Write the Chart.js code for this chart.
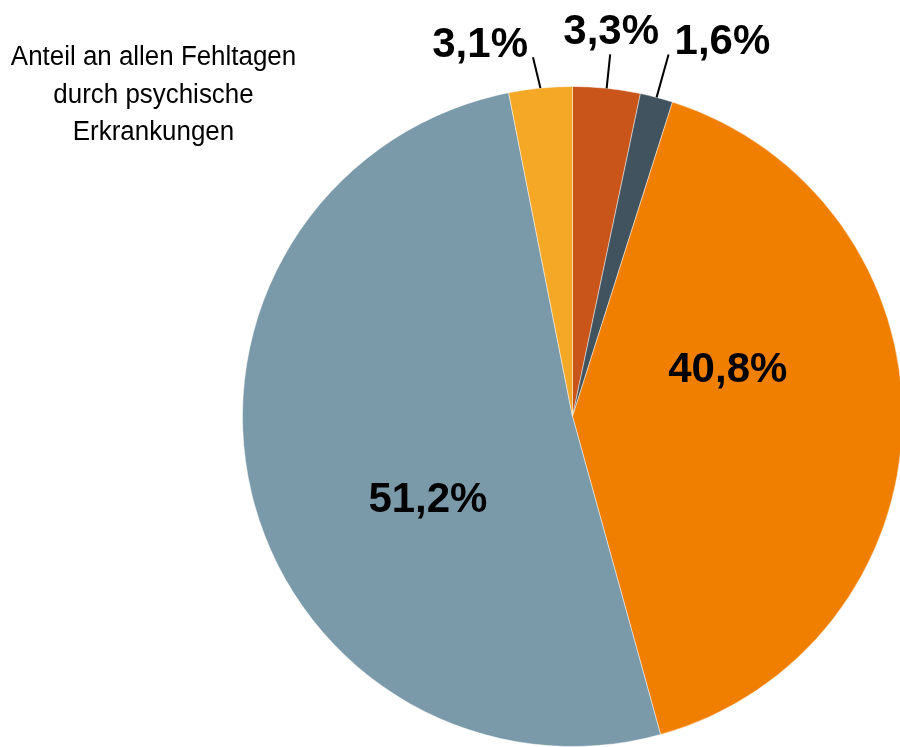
<!DOCTYPE html>
<html>
<head>
<meta charset="utf-8">
<script src="https://cdn.jsdelivr.net/npm/chart.js@4/dist/chart.umd.min.js"></script>
<style>
  html, body { margin: 0; padding: 0; background: #ffffff; overflow: hidden; width: 900px; height: 747px; }
  #wrap { position: relative; width: 910px; height: 747px; }
</style>
</head>
<body>
<div id="wrap"><canvas id="c" width="910" height="747"></canvas></div>
<script>
// ---- data ----
const categories = ['Kategorie 1', 'Kategorie 2', 'Kategorie 3', 'Kategorie 4', 'Kategorie 5'];
const shares = [3.3, 1.6, 40.8, 51.2, 3.1];
const titleLines = ['Anteil an allen Fehltagen', 'durch psychische', 'Erkrankungen'];

// ---- style ----
const sliceColors = ['#C9551A', '#41535F', '#F07F00', '#7A9AA9', '#F5A726'];
// label placement per slice (style only): inside labels use angle offset (deg) from slice middle and radius factor;
// outside labels use a leader line from the rim to a point at (angle offset, radius factor), with text offset.
const labelPlacement = [
  { type: 'outside', dAng: 0.0,  rf: 1.103, align: 'center', tx: 1,  ty: -10 },
  { type: 'outside', dAng: 0.1,  rf: 1.135, align: 'left',   tx: 6,  ty: 0 },
  { type: 'inside',  dAng: -18.8, rf: 0.494 },
  { type: 'inside',  dAng: -15.9, rf: 0.502 },
  { type: 'outside', dAng: -0.7, rf: 1.095, align: 'right',  tx: -5, ty: 0 }
];

function fmt(v) { return v.toFixed(1).replace('.', ',') + '%'; }

const labelPlugin = {
  id: 'pieLabels',
  afterDraw(chart) {
    const ctx = chart.ctx;
    const meta = chart.getDatasetMeta(0);
    ctx.save();
    ctx.fillStyle = '#000';
    ctx.strokeStyle = '#000';
    ctx.lineWidth = 2;
    ctx.font = 'bold 42px "Liberation Sans", Arial, sans-serif';
    meta.data.forEach((arc, i) => {
      const p = arc.getProps(['x', 'y', 'startAngle', 'endAngle', 'outerRadius'], true);
      const mid = (p.startAngle + p.endAngle) / 2;
      const pl = labelPlacement[i];
      const txt = fmt(shares[i]);
      const a = mid + pl.dAng * Math.PI / 180;
      const px = p.x + Math.cos(a) * p.outerRadius * pl.rf;
      const py = p.y + Math.sin(a) * p.outerRadius * pl.rf;
      ctx.textBaseline = 'alphabetic';
      if (pl.type === 'inside') {
        ctx.textAlign = 'center';
        ctx.fillText(txt, px, py + 15);
      } else {
        const sx = p.x + Math.cos(mid) * p.outerRadius;
        const sy = p.y + Math.sin(mid) * p.outerRadius;
        ctx.beginPath();
        ctx.moveTo(sx, sy);
        ctx.lineTo(px, py);
        ctx.stroke();
        ctx.textAlign = pl.align;
        ctx.fillText(txt, px + pl.tx, py + pl.ty);
      }
    });
    // title text
    ctx.font = '27px "Liberation Sans", Arial, sans-serif';
    ctx.textAlign = 'center';
    ctx.textBaseline = 'alphabetic';
    titleLines.forEach((line, k) => {
      ctx.save();
      ctx.translate(153.5, 65 + k * 37.5);
      ctx.scale(0.96, 1);
      ctx.fillText(line, 0, 0);
      ctx.restore();
    });
    ctx.restore();
  }
};

new Chart(document.getElementById('c'), {
  type: 'pie',
  data: {
    labels: categories,
    datasets: [{
      data: shares,
      backgroundColor: sliceColors,
      borderColor: 'rgba(255,255,255,0.45)',
      borderWidth: 1
    }]
  },
  options: {
    responsive: false,
    animation: false,
    layout: { padding: { left: 242, right: 7, top: 86, bottom: 0 } },
    plugins: {
      legend: { display: false },
      tooltip: { enabled: false },
      title: { display: false }
    }
  },
  plugins: [labelPlugin]
});
</script>
</body>
</html>
